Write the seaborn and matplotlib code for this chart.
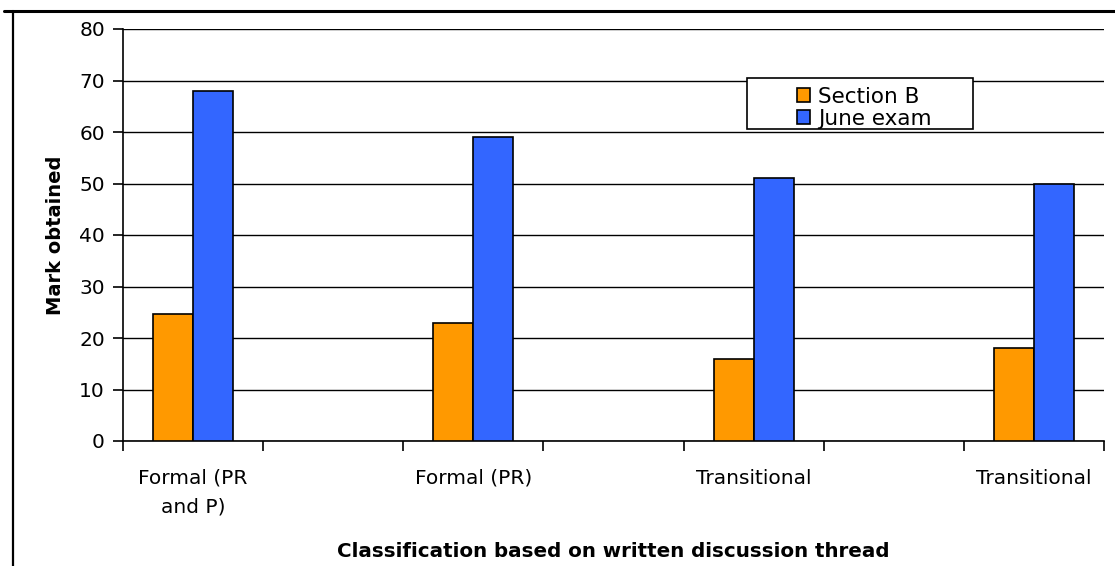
import matplotlib
matplotlib.use("Agg")
import matplotlib.pyplot as plt
from matplotlib.patches import Rectangle
from matplotlib.lines import Line2D
import numpy as np
import pandas as pd
import seaborn as sns

# Classification of each written discussion thread and the marks obtained
classes = ["Formal (PR\nand P)", "Formal (PR)", "Transitional", "Transitional"]
section_b = [24.7, 23, 16, 18]
june_exam = [68, 59, 51, 50]
series_names = ["Section B", "June exam"]
colors = ["#FF9900", "#3366FF"]
y_ticks = [0, 10, 20, 30, 40, 50, 60, 70, 80]

df = pd.DataFrame({
    "thread": list(range(len(classes))) * 2,
    "mark": section_b + june_exam,
    "series": [series_names[0]] * len(classes) + [series_names[1]] * len(classes),
})

sns.set_theme(style="white")
plt.rcParams["font.family"] = ["DejaVu Sans"]
plt.rcParams["text.color"] = "black"
plt.rcParams["axes.labelcolor"] = "black"
plt.rcParams["xtick.color"] = "black"
plt.rcParams["ytick.color"] = "black"

fig = plt.figure(figsize=(11.15, 5.66), dpi=100)
ax = fig.add_axes([123 / 1115, 1 - 441 / 566, (1104 - 123) / 1115, (441 - 29) / 566])

sns.barplot(data=df, x="thread", y="mark", hue="series", hue_order=series_names,
            palette=colors, width=0.2857, dodge=True, saturation=1,
            edgecolor="black", linewidth=1.2, ax=ax, legend=False, zorder=3)

ax.set_xlim(-0.25, len(classes) - 0.75)
ax.set_ylim(0, 80)
ax.set_yticks(y_ticks)
ax.set_yticklabels([str(v) for v in y_ticks], fontsize=14.5)
ax.yaxis.grid(True, color="black", linewidth=1.0, zorder=0)
ax.set_axisbelow(True)

ax.set_xticks(range(len(classes)))
ax.set_xticklabels(classes, fontsize=14.5, linespacing=1.65)
ax.set_xticks(np.arange(-0.25, len(classes) - 0.5, 0.5), minor=True)
ax.tick_params(axis="x", which="major", length=0, pad=20)
ax.tick_params(axis="x", which="minor", length=7, width=1.2, color="black", direction="out", bottom=True)
ax.tick_params(axis="y", length=7, width=1.2, color="black", direction="out", left=True, pad=6)

for side in ["top", "right"]:
    ax.spines[side].set_visible(False)
for side in ["left", "bottom"]:
    ax.spines[side].set_color("black")
    ax.spines[side].set_linewidth(1.2)

ax.set_xlabel("Classification based on written discussion thread", fontsize=14.3,
              fontweight="bold", labelpad=18)
ax.set_ylabel("Mark obtained", fontsize=14, fontweight="bold", labelpad=10)

# Legend box
ax.add_patch(Rectangle((0.636, 0.757), 0.230, 0.123, transform=ax.transAxes,
                       facecolor="white", edgecolor="black", linewidth=1.2, zorder=5))
handles = [Rectangle((0, 0), 1, 1, facecolor=c, edgecolor="black", linewidth=1.2) for c in colors]
leg = ax.legend(handles, series_names, loc="upper left", bbox_to_anchor=(0.687, 0.860),
                frameon=False, fontsize=15.5, handlelength=0.62, handleheight=0.62,
                handletextpad=0.35, labelspacing=0.1, borderpad=0, borderaxespad=0)
leg.set_zorder(6)

# Outer chart frame
fig.add_artist(Line2D([4 / 1115, 1], [1 - 11 / 566, 1 - 11 / 566], color="black", linewidth=2.2))
fig.add_artist(Line2D([13 / 1115, 13 / 1115], [0, 1 - 11 / 566], color="black", linewidth=1.6))

fig.savefig("out.png", dpi=100)
